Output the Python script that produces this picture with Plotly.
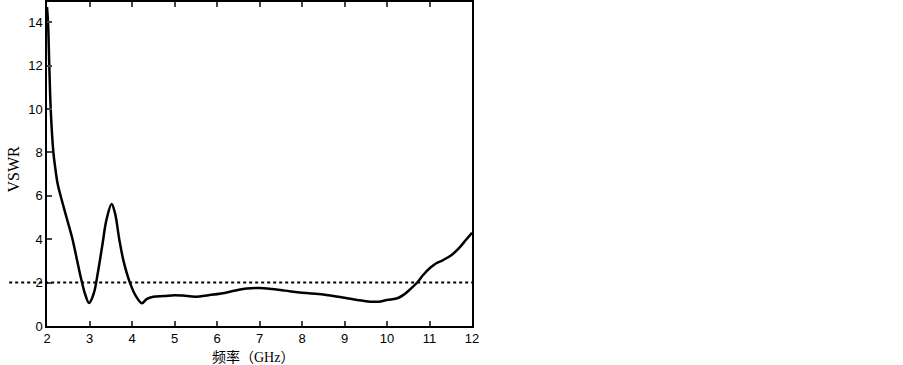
import plotly.graph_objects as go

freq = [2.0, 2.024, 2.054, 2.087, 2.15, 2.2, 2.25, 2.32, 2.46, 2.6, 2.7, 2.8, 2.9, 2.99, 3.1, 3.2, 3.3, 3.4, 3.52,
        3.6, 3.7, 3.8, 3.95, 4.1, 4.23, 4.35, 4.5, 4.75, 5.0, 5.2, 5.5, 5.8, 6.1, 6.4, 6.7, 7.0,
        7.3, 7.6, 8.0, 8.5, 9.0, 9.3, 9.6, 9.8, 10.0, 10.26, 10.4, 10.55, 10.7, 10.85, 11.01,
        11.15, 11.32, 11.52, 11.7, 11.85, 12.0]
vswr = [14.7, 14.0, 12.0, 10.0, 8.0, 7.2, 6.55, 6.0, 5.0, 4.0, 3.1, 2.2, 1.45, 1.06, 1.5, 2.5, 3.7, 4.9, 5.62,
        5.2, 4.0, 3.0, 2.0, 1.35, 1.05, 1.25, 1.35, 1.38, 1.42, 1.4, 1.35, 1.42, 1.5, 1.62, 1.73, 1.75,
        1.7, 1.63, 1.53, 1.45, 1.3, 1.2, 1.12, 1.12, 1.2, 1.29, 1.45, 1.7, 1.98, 2.35, 2.67,
        2.88, 3.04, 3.27, 3.6, 3.95, 4.3]
ref_level = 2
x_ticks = list(range(2, 13))
y_ticks = list(range(0, 15, 2))
x_title = "频率（GHz）"
y_title = "VSWR"

fig = go.Figure()
fig.add_trace(go.Scatter(x=freq, y=vswr, mode="lines",
                         line=dict(color="black", width=2.5, shape="spline", smoothing=1.0),
                         showlegend=False, hoverinfo="skip"))
fig.add_shape(type="line", xref="paper", yref="y", x0=-0.089, x1=1, y0=ref_level, y1=ref_level,
              line=dict(color="black", width=2, dash="dot"))

fig.add_annotation(text=x_title, xref="paper", yref="paper", x=(253 - 47) / 425, y=-(357 - 326) / 324,
                   xanchor="center", yanchor="middle", showarrow=False,
                   font=dict(family="Liberation Serif, Noto Sans CJK SC", size=14, color="black"))
fig.add_annotation(text=y_title, xref="paper", yref="paper", x=-(47 - 12.5) / 425, y=(326 - 169) / 324,
                   xanchor="center", yanchor="middle", showarrow=False, textangle=-90,
                   font=dict(family="Liberation Serif, Times New Roman", size=16, color="black"))

fig.update_layout(
    width=903, height=365,
    margin=dict(l=47, r=431, t=2, b=39),
    paper_bgcolor="white", plot_bgcolor="white",
    font=dict(family="Liberation Sans, Arial", size=13, color="black"),
    xaxis=dict(range=[2, 12], tickvals=x_ticks, ticks="inside", ticklen=5, tickwidth=1.5,
               showline=True, linecolor="black", linewidth=1.5, mirror="ticks",
               showgrid=False, zeroline=False, automargin=False),
    yaxis=dict(range=[0, 14.93], tickvals=y_ticks, ticks="inside", ticklen=5, tickwidth=1.5,
               showline=True, linecolor="black", linewidth=1.5, mirror=True,
               showgrid=False, zeroline=False, automargin=False),
)
fig.write_html("out.html", config={"displayModeBar": False},
               post_script="document.body.style.margin='0';document.body.style.overflow='hidden';")
